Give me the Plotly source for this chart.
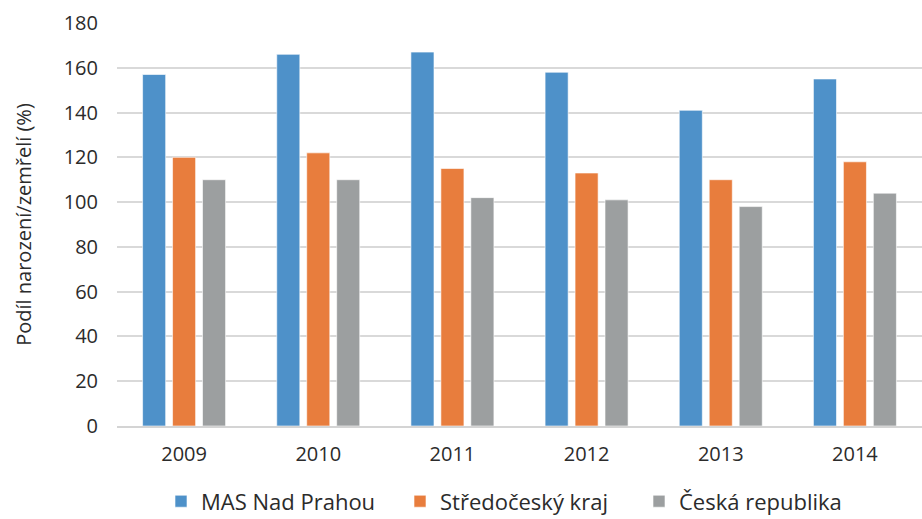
import plotly.graph_objects as go

years = ["2009", "2010", "2011", "2012", "2013", "2014"]
mas = [157, 166, 167, 158, 141, 155]
stredocesky = [120, 122, 115, 113, 110, 118]
cr = [110, 110, 102, 101, 98, 104]

series = [
    ("MAS Nad Prahou", mas, "#4e91c9"),
    ("Středočeský kraj", stredocesky, "#e87d3d"),
    ("Česká republika", cr, "#9c9fa0"),
]

fig = go.Figure()

for name, values, color in series:
    fig.add_trace(go.Bar(
        x=years,
        y=values,
        name=name,
        marker=dict(color=color, line=dict(color="rgba(255,255,255,0.6)", width=1)),
    ))

fig.update_layout(
    barmode="group",
    bargap=0.33,
    bargroupgap=0.23,
    width=922,
    height=519,
    margin=dict(l=117, r=0, t=23, b=93, autoexpand=False),
    plot_bgcolor="white",
    paper_bgcolor="white",
    font=dict(family="Open Sans, Roboto, sans-serif", size=20, color="#2b2b2b"),
    showlegend=True,
    legend=dict(
        orientation="h",
        x=0.5,
        xanchor="center",
        y=-0.135,
        yanchor="top",
        font=dict(size=22),
        itemwidth=30,
        entrywidth=194,
        traceorder="normal",
    ),
)

fig.update_xaxes(
    showgrid=False,
    showline=True,
    linecolor="#d4d4d4",
    linewidth=2,
    ticks="",
    tickfont=dict(size=20),
    ticklabelstandoff=9,
)

fig.update_yaxes(
    range=[0, 180],
    dtick=20,
    showgrid=True,
    gridcolor="#d9d9d9",
    gridwidth=2,
    zeroline=False,
    showline=False,
    ticks="",
    automargin=False,
    tickfont=dict(size=20),
    ticklabelstandoff=18,
    title=dict(text="Podíl narození/zemřelí (%)", font=dict(size=20), standoff=26),
)

fig.write_html(
    "out.html",
    config={"displayModeBar": False},
    post_script="document.body.style.margin='0';",
)
